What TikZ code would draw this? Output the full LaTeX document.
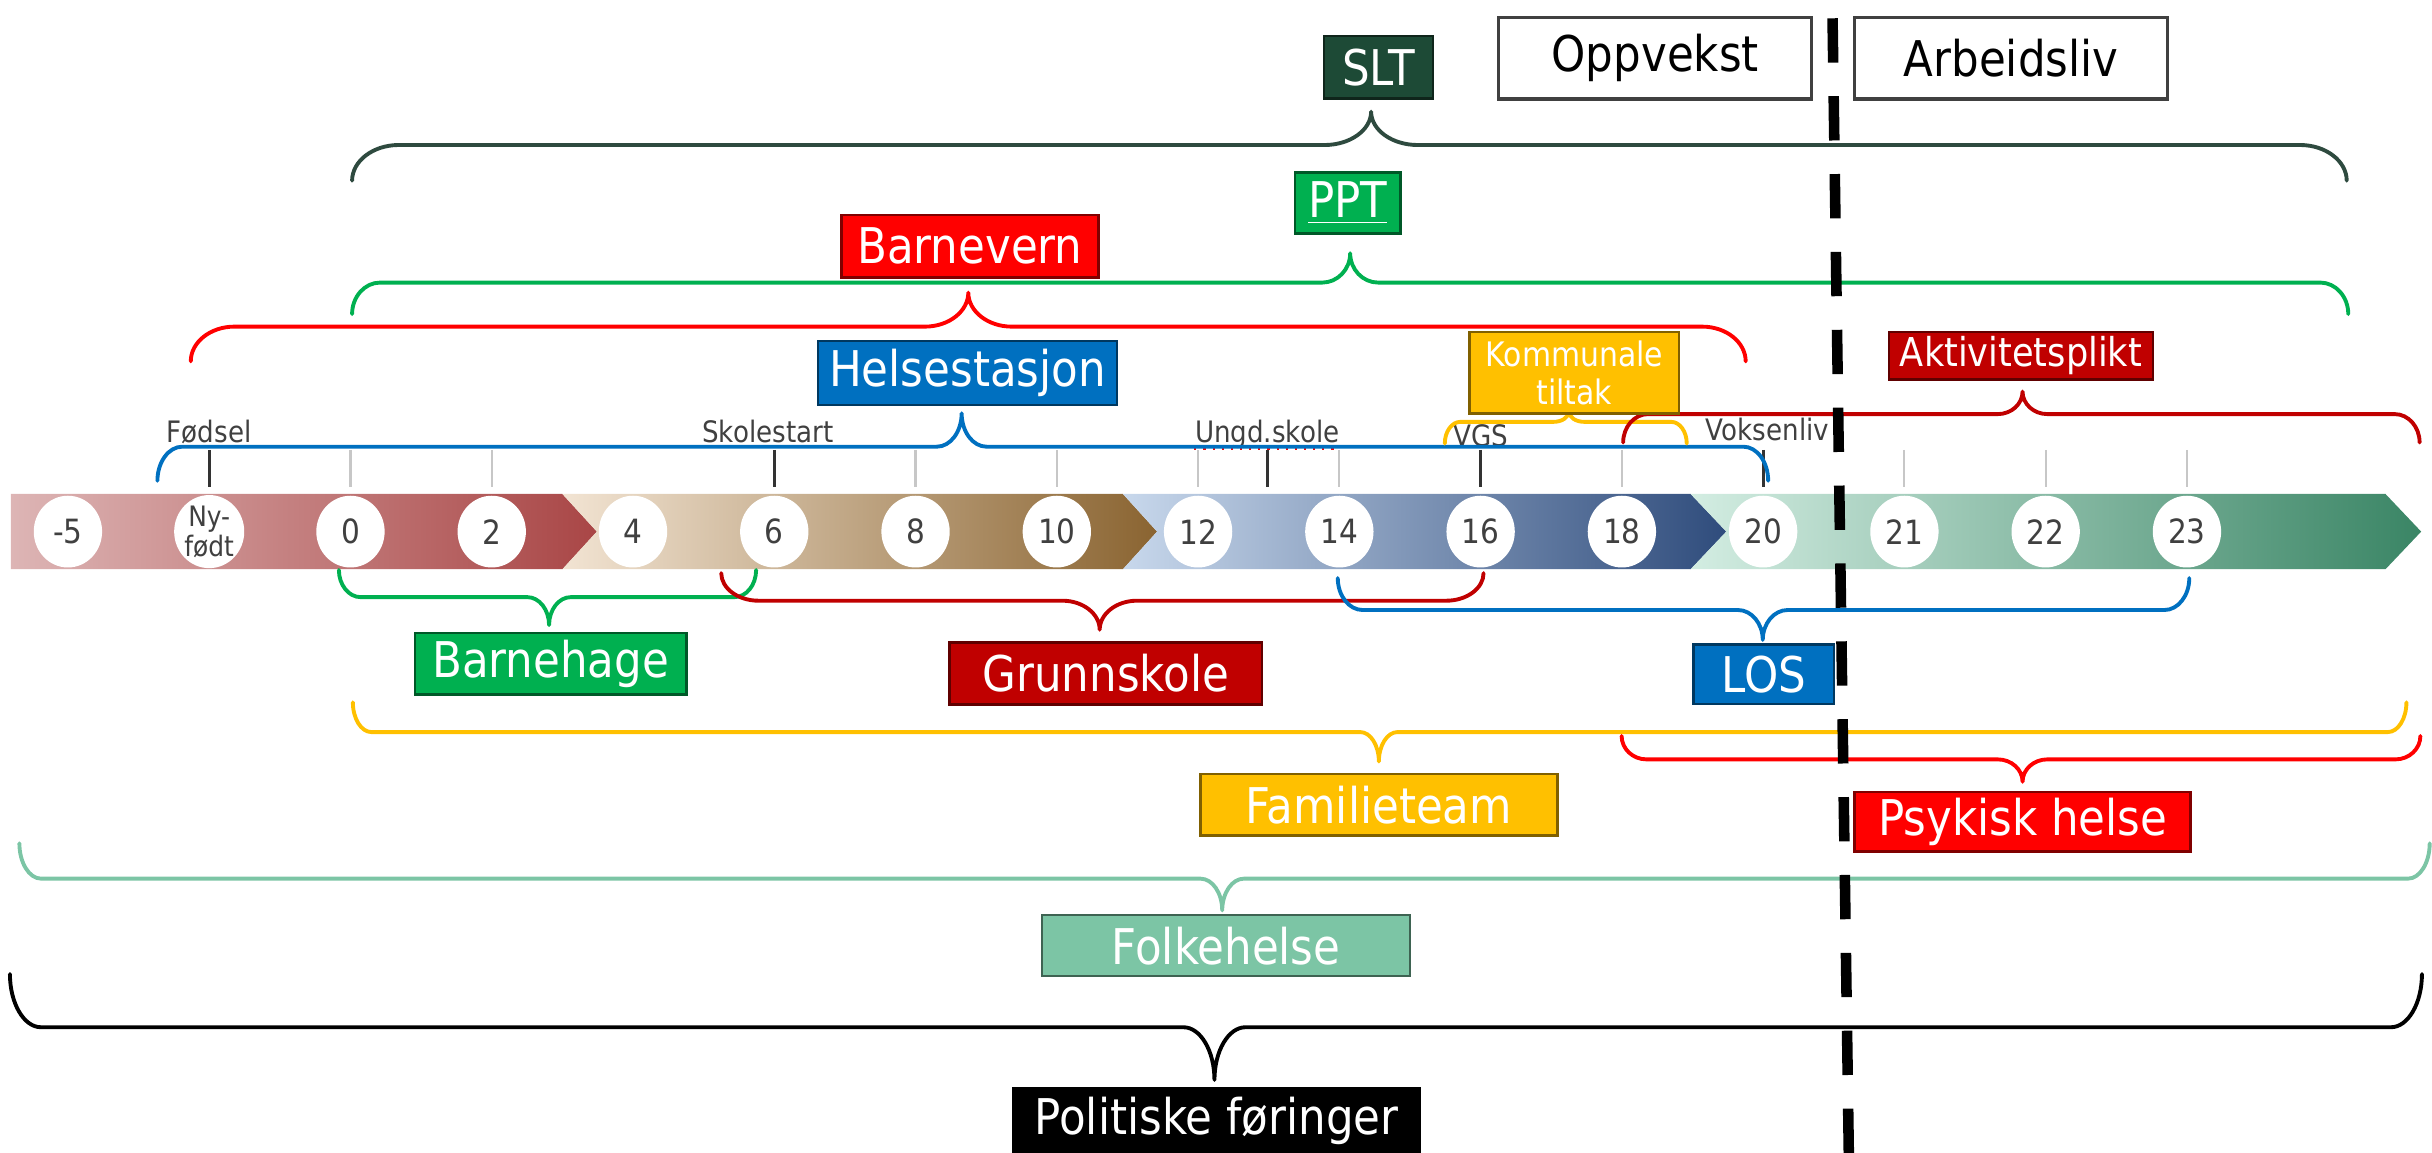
\documentclass[tikz,border=0pt]{standalone}
\usepackage{fontspec}
\setmainfont{DejaVu Sans}[FakeStretch=0.885]
\usepackage{tikz}
\usetikzlibrary{shapes.geometric}

\definecolor{sltgronn}{HTML}{1D4A36}
\definecolor{sltstrek}{HTML}{2E4A3F}
\definecolor{gronn}{HTML}{00B050}
\definecolor{rod}{HTML}{FF0000}
\definecolor{morkrod}{HTML}{C00000}
\definecolor{bla}{HTML}{0070C0}
\definecolor{gul}{HTML}{FFC000}
\definecolor{mint}{HTML}{7CC5A5}
\definecolor{tekstgraa}{HTML}{404040}
\definecolor{rosa}{HTML}{DDB5B5}
\definecolor{vinrod}{HTML}{A94646}
\definecolor{beige}{HTML}{F2E4D3}
\definecolor{brun}{HTML}{8A6431}
\definecolor{lysbla}{HTML}{C8D8EC}
\definecolor{marine}{HTML}{2F4C7C}
\definecolor{lysmint}{HTML}{D3EDE2}
\definecolor{skog}{HTML}{3A8565}

% klamme: farge, venstre x, spiss x, hoyre x, linje y, ende y, spiss y, bue
\newcommand{\klamme}[8]{%
  \draw[klamme, #1]
    (#2,#6) .. controls (#2,{#5+0.45*(#6-#5)}) and ({#2+0.45*#8},#5) .. ({#2+#8},#5)
    -- ({#3-#8},#5) .. controls ({#3-0.45*#8},#5) and (#3,{#5+0.45*(#7-#5)}) .. (#3,#7)
    (#3,#7) .. controls (#3,{#5+0.45*(#7-#5)}) and ({#3+0.45*#8},#5) .. ({#3+#8},#5)
    -- ({#4-#8},#5) .. controls ({#4-0.45*#8},#5) and (#4,{#5+0.45*(#6-#5)}) .. (#4,#6);}

\tikzset{
  klamme/.style={line width=1.1pt, line cap=round},
  boks/.style={fill=#1, draw=#1!50!black, line width=0.7pt, text=white, inner sep=0pt,
    font=\fontsize{14}{16}\selectfont},
  ramme/.style={fill=white, draw=black!75, line width=0.9pt, text=black, inner sep=0pt,
    font=\fontsize{14}{16}\selectfont},
  sirkel/.style={ellipse, fill=white, inner sep=0pt, minimum width=0.683cm,
    minimum height=0.717cm, text=tekstgraa, align=center, font=\fontsize{9.5}{9.5}\selectfont},
  merke/.style={text=tekstgraa, inner sep=0pt, anchor=base, font=\fontsize{8.4}{9}\selectfont},
  graastrek/.style={black!22, line width=0.6pt},
  morkstrek/.style={black!80, line width=0.9pt},
  skille/.style={line width=3pt, dash pattern=on 12.6pt off 9.55pt}
}

\begin{document}
\begin{tikzpicture}[x=0.01551cm, y=-0.01551cm]
\useasboundingbox (0,0) rectangle (1568,743);

% tidslinje
\shade[left color=rosa, right color=vinrod] (7,318.5) -- (362.6,318.5) -- (384.8,342.75)
  -- (362.6,367) -- (7,367) -- cycle;
\shade[left color=beige, right color=brun] (362.6,318.5) -- (724,318.5) -- (746,342.75)
  -- (724,367) -- (362.6,367) -- (384.8,342.75) -- cycle;
\shade[left color=lysbla, right color=marine] (724,318.5) -- (1090,318.5) -- (1113,342.75)
  -- (1090,367) -- (724,367) -- (746,342.75) -- cycle;
\shade[left color=lysmint, right color=skog] (1090,318.5) -- (1538,318.5) -- (1561,342.75)
  -- (1538,367) -- (1090,367) -- (1113,342.75) -- cycle;

\foreach \tall/\k in {-5/0,0/2,2/3,4/4,6/5,8/6,10/7,12/8,14/9,16/10,18/11,20/12,21/13,22/14,23/15}
  \node[sirkel] (c\k) at ({43.8+91.08*\k},342.75) {\tall};
\node[sirkel, font=\fontsize{8}{8.5}\selectfont] (c1) at ({43.8+91.08},342.75) {Ny-\\født};

\foreach \k in {2,3,6,7,8,9,11,13,14,15}
  \draw[graastrek] (c\k |- 0,290) -- (c\k |- 0,314);
\foreach \k in {1,5,10,12}
  \draw[morkstrek] (c\k |- 0,290) -- (c\k |- 0,314);

\node[merke] (fodsel) at (c1 |- 0,285) {Fødsel};
\node[merke] (skolestart) at (495,285) {Skolestart};
\node[merke] (ungd) at (817,285) {Ungd.skole};
\node[merke] (vgs) at (c10 |- 0,288) {VGS};
\node[merke] (voksenliv) at (1139.5,284) {Voksenliv};
\draw[morkstrek] (ungd |- 0,290) -- (ungd |- 0,314);
\draw[red, dotted, line width=0.6pt] (ungd.south west) -- (ungd.south east);

% klammer over
\klamme{sltstrek}{227}{884}{1513}{93.5}{116.5}{72}{30}
\klamme{gronn}{227}{870.5}{1514}{182.2}{202.5}{163.3}{18}
\klamme{rod}{123}{624.3}{1125.5}{210.6}{233}{188.7}{28}
\klamme{bla}{101.5}{620}{1140}{288}{310}{266.5}{16}
\klamme{gul}{931.5}{1011.5}{1087.5}{272}{286}{265.4}{10}
\klamme{morkrod}{1046.5}{1304}{1560}{267}{285.3}{252.5}{16}

% klammer under
\klamme{gronn}{218.5}{354}{487.5}{385}{367.5}{403}{14}
\klamme{morkrod}{465}{709}{956.5}{387.3}{369.5}{406}{24}
\klamme{bla}{862.5}{1136.5}{1411.5}{393.3}{372.7}{412.6}{16}
\klamme{gul}{227.5}{889}{1551.5}{472}{452.8}{491}{12}
\klamme{rod}{1045.5}{1304}{1560.5}{489.6}{474.5}{504}{16}
\klamme{mint}{12.5}{788}{1566.5}{566.5}{543.7}{587}{14}
\klamme{black}{6.4}{783}{1561.5}{662.3}{628}{696.3}{20}

% bokser
\node[boks=sltgronn, minimum width=1.093cm, minimum height=0.623cm] (slt) at (888.8,43.3) {SLT};
\node[ramme, minimum width=3.128cm, minimum height=0.816cm] (oppvekst) at (1067.2,37.5) {Oppvekst};
\node[ramme, minimum width=3.128cm, minimum height=0.816cm] (arbeidsliv) at (1296.6,37.5) {Arbeidsliv};
\node[boks=gronn, minimum width=1.055cm, minimum height=0.606cm] (ppt) at (869,130.9) {\underline{PPT}};
\node[boks=rod, minimum width=2.567cm, minimum height=0.623cm] (barnevern) at (625.3,158.7) {Barnevern};
\node[boks=bla, minimum width=2.986cm, minimum height=0.636cm] (helsestasjon) at (623.8,240.5) {Helsestasjon};
\node[boks=gul, minimum width=2.094cm, minimum height=0.814cm, align=center,
  font=\fontsize{9.6}{10.9}\selectfont] (kommunale) at (1015,240.3) {Kommunale\\tiltak};
\node[boks=morkrod, minimum width=2.637cm, minimum height=0.475cm,
  font=\fontsize{11.3}{12}\selectfont] (aktivitet) at (1303,229.3) {Aktivitetsplikt};
\node[boks=gronn, minimum width=2.714cm, minimum height=0.617cm] (barnehage) at (355,427.9) {Barnehage};
\node[boks=morkrod, minimum width=3.121cm, minimum height=0.62cm] (grunnskole) at (712.9,434.3) {Grunnskole};
\node[boks=bla, minimum width=1.407cm, minimum height=0.597cm] (los) at (1137.2,434.8) {LOS};
\node[boks=gul, minimum width=3.567cm, minimum height=0.613cm] (familieteam) at (889,518.8) {Familieteam};
\node[boks=rod, minimum width=3.361cm, minimum height=0.597cm] (psykisk) at (1304,529.8) {Psykisk helse};
\node[boks=mint, minimum width=3.676cm, minimum height=0.61cm] (folkehelse) at (790.5,609.7) {Folkehelse};
\node[boks=black, minimum width=4.071cm, minimum height=0.66cm] (politiske) at (784.3,723) {Politiske føringer};

% skillelinje
\coordinate (skille-topp) at (1181.5,11.8);
\coordinate (skille-bunn) at (1192,745);
\draw[skille] (skille-topp) -- (skille-bunn);

\end{tikzpicture}
\end{document}
